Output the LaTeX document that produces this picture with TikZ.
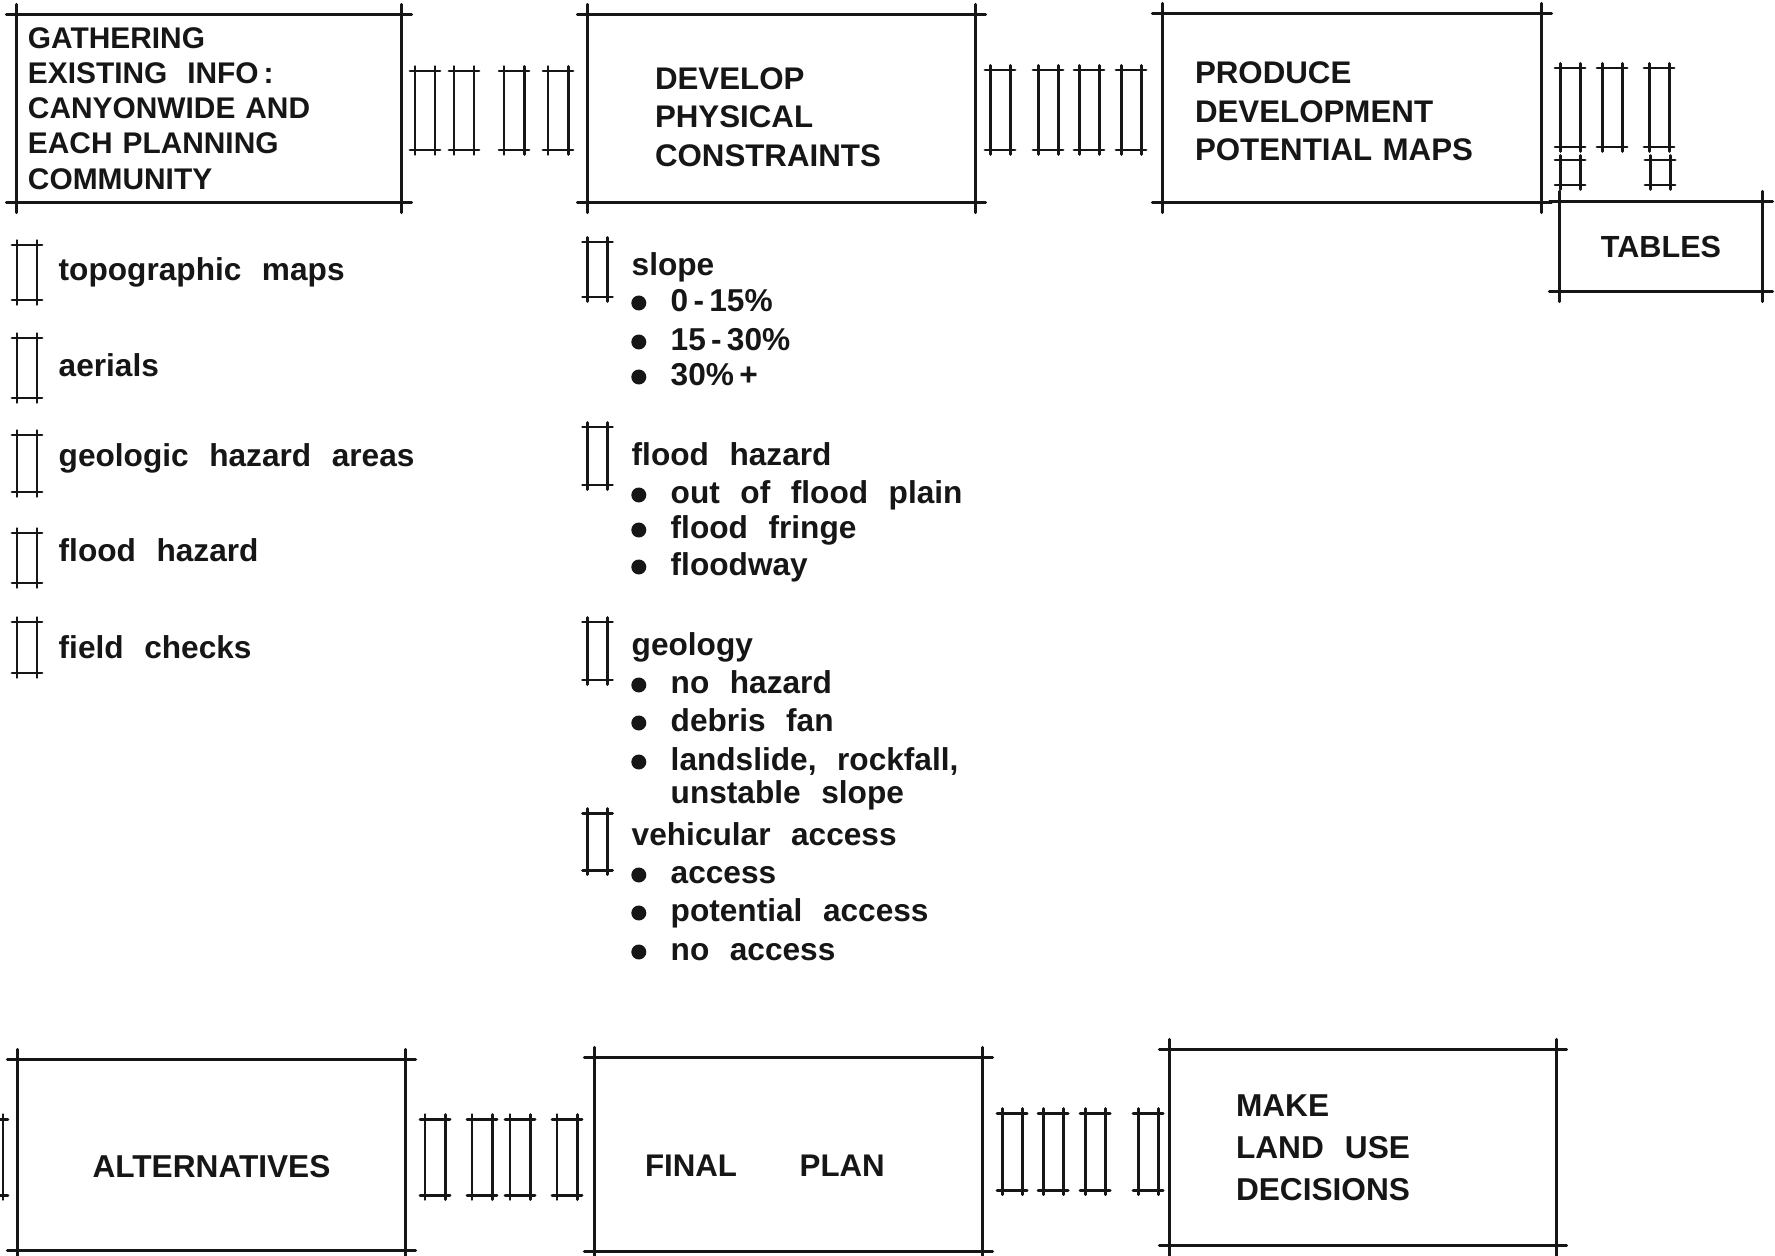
\documentclass[tikz,border=0pt]{standalone}
\usepackage{fontspec}
\setmainfont{Liberation Sans}
\definecolor{Ink}{HTML}{161616}
\tikzset{stage/.style 2 args={font={\fontsize{#1}{#2}\selectfont\bfseries\spaceskip.75em\relax},text=Ink,inner ysep=0pt,align=left},
rim/.style={draw=Ink,line width=.85pt,line cap=round,shorten <=-1mm,shorten >=-1mm},
lab/.style={font={\fontsize{9}{11}\selectfont\bfseries\spaceskip.65em\relax},text=Ink,anchor=west,inner sep=0pt,text height=7pt,text depth=2pt},
dot/.style={circle,fill=Ink,inner sep=0pt,minimum size=1.5mm,text height=0pt,text depth=0pt,xshift=-2.3mm},
item/.style={lab,label={[dot]left:{}}},
pics/ladder/.style={code={\draw[draw=Ink,line width=.85pt,line cap=round] (-.1,.045)--(-.1,-#1-.045) (.1,.045)--(.1,-#1-.045) (-.15,0)--(.15,0) (-.15,-#1)--(.15,-#1);}}}
\newcommand{\sketchbox}[1]{\draw[rim] (#1.north west)--(#1.north east); \draw[rim] (#1.south west)--(#1.south east); \draw[rim] (#1.north west)--(#1.south west); \draw[rim] (#1.north east)--(#1.south east);}
\begin{document}
\begin{tikzpicture}
\useasboundingbox[fill=white] (0,0) rectangle (17.75,-12.56);
\node[stage={8.5}{10},text width=3.62cm,inner xsep=1.1mm,minimum height=1.87cm] (gather) at (2.09,-1.085) {GATHERING\\EXISTING\ \ INFO\,:\\CANYONWIDE AND\\EACH PLANNING\\COMMUNITY};
\node[stage={8.9}{11},text width=2.53cm,inner xsep=6.7mm,minimum height=1.87cm,text height=11pt,text depth=22pt] (develop) at (7.815,-1.085) {DEVELOP\\PHYSICAL\\CONSTRAINTS};
\node[stage={8.9}{10.9},text width=3.14cm,inner xsep=3.2mm,minimum height=1.88cm,text height=8pt,text depth=21.8pt] (produce) at (13.52,-1.08) {PRODUCE\\DEVELOPMENT\\POTENTIAL MAPS};
\node[stage={8.7}{11},align=center,text width=1.8cm,inner xsep=1.1mm,minimum height=.89cm] (tables) at (16.61,-2.465) {TABLES};
\node[stage={9}{11},align=center,text width=3.65cm,inner xsep=1.1mm,minimum height=1.9cm,text height=12.6pt,text depth=0pt] (alts) at (2.115,-11.55) {ALTERNATIVES};
\node[stage={8.9}{11},text width=2.87cm,inner xsep=5mm,minimum height=1.93cm,text height=12.6pt,text depth=0pt] (final) at (7.885,-11.545) {FINAL\hspace{2em}PLAN};
\node[stage={9}{12},text width=2.54cm,inner xsep=6.6mm,minimum height=1.95cm] (decide) at (13.63,-11.475) {MAKE\\LAND\ \ USE\\DECISIONS};
\sketchbox{gather}\sketchbox{develop}\sketchbox{produce}\sketchbox{tables}
\sketchbox{alts}\sketchbox{final}\sketchbox{decide}
\foreach \x in {4.25,4.64,5.14,5.58} \pic at (\x,-.71) {ladder=.79};
\foreach \x in {10.00,10.48,10.89,11.31} \pic at (\x,-.70) {ladder=.80};
\foreach \x in {15.70,16.12,16.59} \pic at (\x,-.68) {ladder=.79};
\foreach \x in {15.70,16.60} \pic at (\x,-1.60) {ladder=.25};
\foreach \x in {-.07,4.35,4.82,5.20,5.67} \pic at (\x,-11.19) {ladder=.76};
\foreach \x in {10.12,10.53,10.95,11.48} \pic at (\x,-11.13) {ladder=.77};
\pic at (.27,-2.45) {ladder=.55};
\pic at (.27,-3.38) {ladder=.60};
\pic at (.27,-4.35) {ladder=.57};
\pic at (.27,-5.33) {ladder=.50};
\pic at (.27,-6.22) {ladder=.51};
\node[lab] (topo) at (.58,-2.72) {topographic maps};
\node[lab] (aerial) at (.58,-3.68) {aerials};
\node[lab] (geohaz) at (.58,-4.58) {geologic hazard areas};
\node[lab] (floodhaz) at (.58,-5.53) {flood hazard};
\node[lab] (field) at (.58,-6.50) {field checks};
\pic at (5.975,-2.42) {ladder=.55};
\pic at (5.975,-4.27) {ladder=.58};
\pic at (5.975,-6.22) {ladder=.58};
\pic at (5.975,-8.13) {ladder=.57};
\node[lab] (slope) at (6.31,-2.67) {slope};
\node[item] (sl1) at (6.70,-3.03) {0\,-\,15\%};
\node[item] (sl2) at (6.70,-3.42) {15\,-\,30\%};
\node[item] (sl3) at (6.70,-3.77) {30\%\,+};
\node[lab] (flood) at (6.31,-4.57) {flood hazard};
\node[item] (fl1) at (6.70,-4.95) {out of flood plain};
\node[item] (fl2) at (6.70,-5.30) {flood fringe};
\node[item] (fl3) at (6.70,-5.67) {floodway};
\node[lab] (geo) at (6.31,-6.47) {geology};
\node[item] (ge1) at (6.70,-6.85) {no hazard};
\node[item] (ge2) at (6.70,-7.23) {debris fan};
\node[item] (ge3) at (6.70,-7.62) {landslide, rockfall,};
\node[lab] (ge3b) at (6.70,-7.95) {unstable slope};
\node[lab] (access) at (6.31,-8.37) {vehicular access};
\node[item] (ac1) at (6.70,-8.75) {access};
\node[item] (ac2) at (6.70,-9.13) {potential access};
\node[item] (ac3) at (6.70,-9.52) {no access};
\end{tikzpicture}
\end{document}
